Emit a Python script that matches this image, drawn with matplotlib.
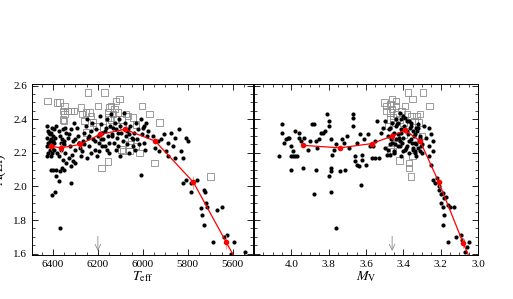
import numpy as np
import matplotlib
matplotlib.use("Agg")
import matplotlib.pyplot as plt
from matplotlib.ticker import MultipleLocator

plt.rcParams['font.family'] = ['Liberation Serif', 'DejaVu Serif']
plt.rcParams['mathtext.fontset'] = 'stix'

# ---- left panel: Teff vs A(Li) ----
teff_dots = [6425, 6420, 6415, 6425, 6410, 6420, 6405, 6425, 6415, 6420, 6410, 6425, 6400, 6395, 6405, 6410, 6400, 6395, 6405, 6400, 6410, 6395,
             6385, 6375, 6370, 6360, 6350, 6365, 6380, 6375, 6355, 6385, 6370, 6360, 6350, 6385, 6375, 6345, 6340, 6355, 6345, 6340, 6390, 6405, 6370,
             6330, 6320, 6310, 6325, 6300, 6315, 6330, 6310, 6320, 6300, 6290, 6285, 6280, 6295, 6305, 6320, 6275, 6270, 6265, 6260, 6255, 6250, 6245,
             6240, 6230, 6225, 6220, 6215, 6210, 6200, 6195, 6190, 6185, 6180, 6175, 6170, 6165, 6160, 6155, 6150, 6205, 6195, 6230, 6250, 6180, 6170, 6160,
             6145, 6140, 6135, 6130, 6125, 6120, 6115, 6110, 6105, 6100, 6095, 6090, 6085, 6080, 6075, 6070, 6065, 6060, 6055, 6050, 6045, 6040, 6035,
             6030, 6025, 6020, 6015, 6010, 6005, 6000, 5995, 5990, 5985, 5980, 6010, 6100, 6150, 6120,
             5993, 5978, 5956, 5919, 5908, 5889, 5874, 5867, 5856, 5837, 5807, 5800, 5830, 5822, 5859, 5889, 5926, 5896, 5948, 5933,
             5785, 5760, 5785, 5730, 5725, 5720, 5740, 5735, 5715, 5730, 5670, 5650, 5690, 5640, 5625, 5610, 5595, 5545, 5822, 5807,
             6415, 6390, 6365, 6335, 6262, 6212, 6188, 6138, 6112, 6062, 6042, 6418, 6402, 6352, 6302, 6282, 6238, 6132, 6072]
ali_left_dots = [2.36, 2.33, 2.31, 2.29, 2.28, 2.26, 2.25, 2.24, 2.22, 2.20, 2.18, 2.18, 2.30, 2.34, 2.35, 2.32, 2.27, 2.22, 2.20, 2.10, 2.10, 2.26,
                 2.36, 2.33, 2.30, 2.28, 2.25, 2.22, 2.20, 2.18, 2.16, 2.10, 2.09, 2.11, 2.10, 2.06, 2.03, 2.35, 2.32, 2.34, 2.20, 2.14, 1.97, 1.95, 1.75,
                 2.31, 2.34, 2.27, 2.24, 2.22, 2.19, 2.17, 2.15, 2.12, 2.14, 2.30, 2.26, 2.23, 2.35, 2.38, 2.02, 2.18, 2.21, 2.27, 2.32, 2.36, 2.40, 2.29,
                 2.24, 2.33, 2.38, 2.28, 2.22, 2.34, 2.30, 2.26, 2.42, 2.37, 2.32, 2.28, 2.24, 2.35, 2.40, 2.30, 2.26, 2.18, 2.21, 2.20, 2.17, 2.24, 2.33, 2.22,
                 2.36, 2.43, 2.31, 2.26, 2.38, 2.34, 2.29, 2.24, 2.40, 2.36, 2.32, 2.27, 2.44, 2.38, 2.30, 2.25, 2.34, 2.20, 2.36, 2.29, 2.24, 2.32, 2.22,
                 2.38, 2.28, 2.34, 2.25, 2.40, 2.31, 2.35, 2.26, 2.22, 2.38, 2.30, 2.07, 2.18, 2.20, 2.22,
                 2.36, 2.33, 2.30, 2.28, 2.31, 2.26, 2.32, 2.24, 2.29, 2.34, 2.29, 2.27, 2.21, 2.17, 2.17, 2.18, 2.21, 2.21, 2.23, 2.27,
                 2.02, 2.04, 1.97, 1.98, 1.97, 1.90, 1.87, 1.83, 1.88, 1.77, 1.86, 1.88, 1.67, 1.70, 1.71, 1.60, 1.67, 1.61, 2.02, 2.04,
                 2.27, 2.29, 2.26, 2.29, 2.25, 2.27, 2.28, 2.30, 2.32, 2.31, 2.28, 2.32, 2.23, 2.27, 2.28, 2.26, 2.30, 2.35, 2.33]

teff_squares = [6425, 6381, 6370, 6348, 6356, 6336, 6319, 6307, 6348, 6356, 6351, 6274, 6270, 6244, 6252, 6237, 6230, 6259, 6252,
                6200, 6170, 6156, 6148, 6141, 6133, 6156, 6126, 6104, 6111, 6119, 6074, 6067, 6044, 6096, 6089, 6148, 6178, 6207, 6222,
                6004, 5970, 6030, 6052, 6059, 6096, 6089, 6030, 6015, 6185, 6156, 5948, 5926, 5699, 6059, 6119, 6141]
ali_left_squares = [2.51, 2.50, 2.50, 2.48, 2.45, 2.45, 2.45, 2.45, 2.43, 2.40, 2.39, 2.47, 2.43, 2.56, 2.44, 2.44, 2.42, 2.39, 2.32,
                    2.48, 2.56, 2.44, 2.47, 2.48, 2.43, 2.41, 2.46, 2.52, 2.44, 2.40, 2.43, 2.42, 2.41, 2.40, 2.36, 2.37, 2.35, 2.36, 2.38,
                    2.48, 2.43, 2.37, 2.27, 2.25, 2.22, 2.21, 2.24, 2.20, 2.11, 2.15, 2.14, 2.38, 2.06, 2.21, 2.51, 2.40]

teff_bins = [6410, 6365, 6280, 6190, 6080, 5945, 5775, 5630, 5490]
ali_teff_bins = [2.24, 2.23, 2.25, 2.31, 2.34, 2.27, 2.025, 1.67, 1.33]
err_teff_bins = [0.02, 0.03, 0.02, 0.02, 0.02, 0.02, 0.04, 0.04, 0.05]
teff_ticks = [6400, 6200, 6000, 5800, 5600]

# ---- right panel: Mv vs A(Li) ----
mv_dots = [4.066, 4.05, 4.05, 4.04, 4.03, 4.02, 4.01, 4.0, 4.0, 4.0, 3.99, 3.98, 3.97, 3.99, 3.98, 3.96, 3.96, 3.95, 3.94, 3.93, 3.91, 3.90,
           3.89, 3.88, 3.87, 3.88, 3.87, 3.86, 3.85, 3.84, 3.83, 3.82, 3.81, 3.80, 3.80, 3.80, 3.79, 3.79, 3.79, 3.79, 3.78, 3.77, 3.76, 3.76,
           3.74, 3.73, 3.72, 3.71, 3.70, 3.69, 3.67, 3.67, 3.67, 3.66, 3.66, 3.65, 3.65, 3.64, 3.63, 3.625, 3.62, 3.62, 3.61, 3.60, 3.59, 3.58,
           3.57, 3.56, 3.55, 3.55, 3.54, 3.53, 3.52, 3.51, 3.50, 3.49, 3.50,
           3.48, 3.47, 3.46, 3.45, 3.44, 3.43, 3.42, 3.41, 3.40, 3.39, 3.38, 3.37, 3.36, 3.35, 3.34, 3.33, 3.32, 3.31, 3.30,
           3.48, 3.47, 3.46, 3.45, 3.44, 3.43, 3.42, 3.41, 3.40, 3.39, 3.38, 3.37, 3.36, 3.35, 3.34, 3.33, 3.32, 3.31, 3.30,
           3.475, 3.465, 3.455, 3.445, 3.435, 3.425, 3.415, 3.405, 3.395, 3.385, 3.375, 3.365, 3.355, 3.345, 3.335, 3.325, 3.315, 3.305,
           3.47, 3.45, 3.43, 3.41, 3.39, 3.37, 3.35, 3.33, 3.31, 3.44, 3.40, 3.36, 3.32, 3.42, 3.38, 3.34,
           3.29, 3.28, 3.26, 3.26, 3.25, 3.24, 3.24, 3.26, 3.25, 3.24, 3.23, 3.22, 3.21, 3.21, 3.20, 3.19, 3.20, 3.19, 3.18, 3.17,
           3.16, 3.15, 3.13, 3.19, 3.18, 3.16, 3.12, 3.09, 3.085, 3.05, 3.07, 3.06]
ali_right_dots = [2.18, 2.37, 2.32, 2.26, 2.28, 2.29, 2.29, 2.24, 2.10, 2.18, 2.18, 2.18, 2.18, 2.21, 2.33, 2.29, 2.32, 2.27, 2.11, 2.29, 2.22, 2.27,
                  2.37, 2.37, 2.10, 1.955, 2.27, 2.23, 2.28, 2.32, 2.32, 2.33, 2.43, 2.39, 2.36, 2.06, 2.11, 2.09, 1.97, 2.28, 2.19, 2.22, 1.75, 2.25,
                  2.09, 2.28, 2.26, 2.10, 2.30, 2.23, 2.43, 2.41, 2.36, 2.18, 2.15, 2.13, 2.26, 2.12, 2.31, 2.01, 2.16, 2.19, 2.28, 2.13, 2.31, 2.24,
                  2.17, 2.24, 2.27, 2.17, 2.39, 2.17, 2.32, 2.35, 2.23, 2.19, 2.39,
                  2.30, 2.35, 2.26, 2.32, 2.28, 2.38, 2.24, 2.34, 2.29, 2.41, 2.33, 2.27, 2.36, 2.22, 2.31, 2.25, 2.37, 2.29, 2.20,
                  2.22, 2.25, 2.38, 2.20, 2.36, 2.31, 2.27, 2.40, 2.21, 2.34, 2.24, 2.39, 2.28, 2.33, 2.26, 2.35, 2.23, 2.30, 2.25,
                  2.34, 2.28, 2.31, 2.25, 2.37, 2.29, 2.32, 2.26, 2.36, 2.23, 2.31, 2.35, 2.26, 2.30, 2.21, 2.33, 2.27, 2.24,
                  2.19, 2.21, 2.24, 2.18, 2.22, 2.20, 2.23, 2.18, 2.21, 2.40, 2.42, 2.38, 2.35, 2.44, 2.39, 2.20,
                  2.36, 2.29, 2.35, 2.24, 2.31, 2.21, 2.27, 2.18, 2.13, 2.04, 2.02, 2.05, 1.98, 2.00, 1.955, 1.96, 1.90, 1.88, 1.93, 1.94,
                  1.89, 1.88, 1.88, 1.77, 1.83, 1.67, 1.70, 1.71, 1.68, 1.67, 1.61, 1.64]

mv_squares = [3.50, 3.49, 3.47, 3.46, 3.44, 3.44, 3.49, 3.47, 3.46, 3.44, 3.41, 3.39, 3.375, 3.35, 3.295, 3.26, 3.31, 3.33, 3.355,
              3.38, 3.42, 3.455, 3.47, 3.48, 3.455, 3.40, 3.34, 3.32, 3.42, 3.37, 3.35, 3.37, 3.36, 3.44, 3.40, 3.43, 3.30, 3.47, 3.455]
ali_right_squares = [2.50, 2.48, 2.49, 2.52, 2.51, 2.48, 2.45, 2.44, 2.46, 2.43, 2.45, 2.48, 2.56, 2.52, 2.56, 2.48, 2.43, 2.42, 2.42,
                     2.43, 2.40, 2.38, 2.40, 2.36, 2.41, 2.38, 2.39, 2.38, 2.155, 2.14, 2.18, 2.11, 2.06, 2.29, 2.31, 2.26, 2.30, 2.22, 2.21]

mv_bins = [3.94, 3.74, 3.57, 3.46, 3.39, 3.31, 3.21, 3.08, 2.95]
ali_mv_bins = [2.245, 2.23, 2.255, 2.30, 2.335, 2.27, 2.025, 1.665, 1.33]
err_mv_bins = [0.01, 0.01, 0.01, 0.02, 0.02, 0.02, 0.03, 0.03, 0.04]
mv_ticks = [4.0, 3.8, 3.6, 3.4, 3.2, 3.0]

ali_ticks = [1.6, 1.8, 2.0, 2.2, 2.4, 2.6]

fig = plt.figure(figsize=(5.13, 2.99), dpi=100)
ax1 = fig.add_axes([32 / 513, 44 / 299, 221 / 513, 171 / 299])
ax2 = fig.add_axes([254 / 513, 44 / 299, 224 / 513, 171 / 299])


def draw(ax, xd, yd, xs, ys, xb, yb, eb):
    ax.scatter(xs, ys, s=22, marker='s', facecolors='none', edgecolors='#8c8c8c', linewidths=0.6, zorder=2)
    ax.scatter(xd, yd, s=9, color='black', linewidths=0, zorder=3)
    ax.errorbar(xb, yb, yerr=eb, color='red', lw=0.9, marker='o', ms=3, ecolor='#ff8080', elinewidth=0.6,
                capsize=0, zorder=4)
    ax.tick_params(direction='in', which='both', top=True, right=True, labelsize=8)
    ax.tick_params(which='major', length=4, width=0.6)
    ax.tick_params(which='minor', length=2, width=0.5)
    ax.set_yticks(ali_ticks)
    ax.yaxis.set_minor_locator(MultipleLocator(0.05))
    ax.set_ylim(1.592, 2.61)
    for s in ax.spines.values():
        s.set_linewidth(0.7)


draw(ax1, teff_dots, ali_left_dots, teff_squares, ali_left_squares, teff_bins, ali_teff_bins, err_teff_bins)
ax1.set_xticks(teff_ticks)
ax1.xaxis.set_minor_locator(MultipleLocator(50))
ax1.set_xlim(6493, 5510)
ax1.set_yticklabels(['%.1f' % v for v in ali_ticks])
ax1.set_xlabel(r'$T_{\rm eff}$', fontsize=10, labelpad=0)
ax1.set_ylabel('A(Li)', fontsize=10)
ax1.yaxis.set_label_coords(-0.12, 0.5)
ax1.annotate('', xy=(6200, 1.60), xytext=(6200, 1.72),
             arrowprops=dict(arrowstyle='->', color='#8c8c8c', lw=0.6))

draw(ax2, mv_dots, ali_right_dots, mv_squares, ali_right_squares, mv_bins, ali_mv_bins, err_mv_bins)
ax2.set_xticks(mv_ticks)
ax2.set_xticklabels(['%.1f' % v for v in mv_ticks])
ax2.xaxis.set_minor_locator(MultipleLocator(0.05))
ax2.set_xlim(4.2, 3.0)
ax2.set_yticklabels([])
ax2.set_xlabel(r'$M_{\rm V}$', fontsize=10, labelpad=0)
ax2.annotate('', xy=(3.46, 1.60), xytext=(3.46, 1.72),
             arrowprops=dict(arrowstyle='->', color='#8c8c8c', lw=0.6))

fig.savefig('out.png', dpi=100)
